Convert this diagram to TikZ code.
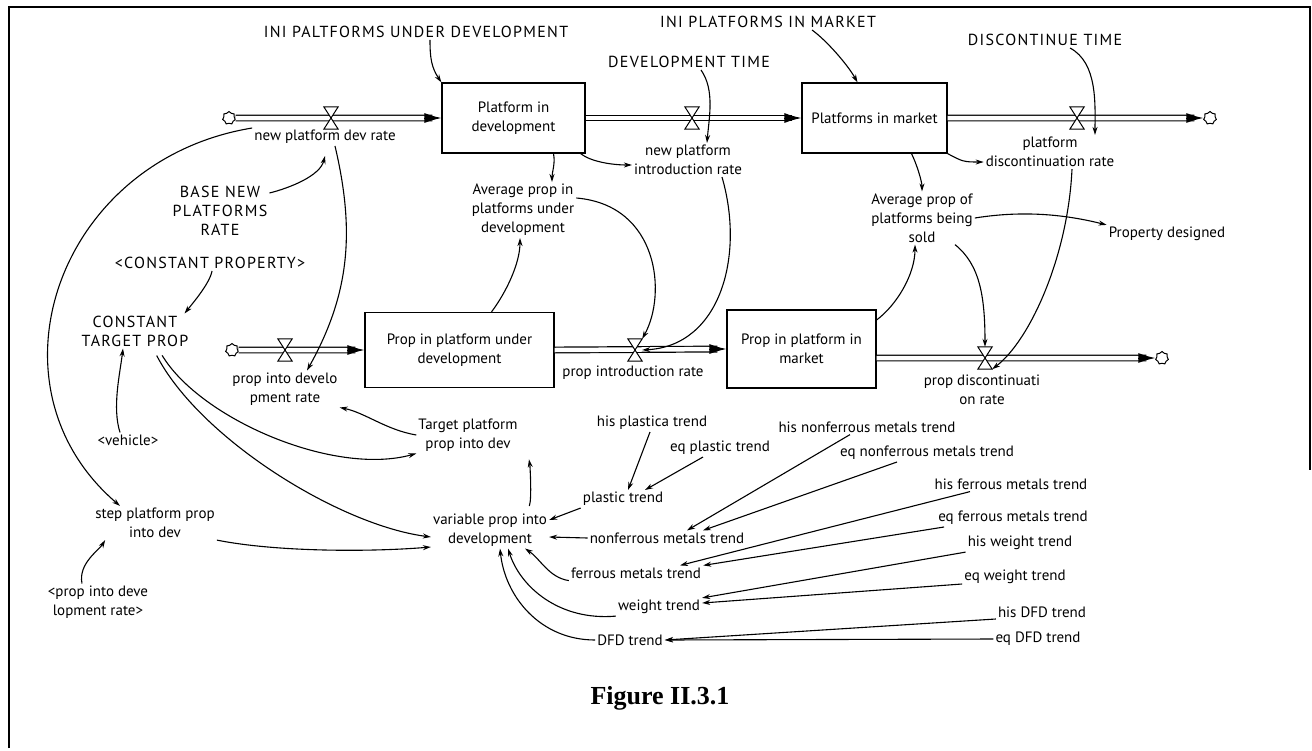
\documentclass[tikz,border=0pt]{standalone}
\usepackage{fontspec}
\setmainfont{PT Sans}
\newfontfamily\captionfont{Liberation Serif}
\usetikzlibrary{arrows.meta}
\usetikzlibrary{shapes.symbols}
\usetikzlibrary{calc}

\tikzset{
  stock/.style={draw, rectangle, line width=1.2pt, align=center, inner sep=3pt},
  aux/.style={align=center, inner sep=2pt},
  capsaux/.style={aux, font=\fontsize{16}{19}\selectfont\addfontfeature{LetterSpace=8}},
  valve/.style={minimum width=14, minimum height=22, inner sep=0pt},
  cloudy/.style={cloud, cloud puffs=7, draw, fill=white, minimum width=13, minimum height=13, inner sep=0pt, line width=1pt, aspect=1},
  pipe/.style={double, double distance=4.5pt, line width=1.2pt},
  pipetip/.style={-{Latex[length=17pt,width=10pt]}, line width=1pt},
  link/.style={-{Stealth[length=8pt,width=5pt]}, line width=1.1pt},
}

\begin{document}
\begin{tikzpicture}[x=1pt, y=-1pt, font=\fontsize{15}{19}\selectfont]
\useasboundingbox (0,0) rectangle (1312,750);
\draw[line width=1.6pt] (9,748) -- (9,7) -- (1310,7) -- (1310,470);

% stocks
\node[stock, minimum width=143, minimum height=70] (pdev) at (513.5,118) {Platform in\\development};
\node[stock, minimum width=145, minimum height=70] (pmkt) at (874.5,118) {Platforms in market};
\node[stock, minimum width=189, minimum height=75] (ppdev) at (459.5,350) {Prop in platform under\\development};
\node[stock, minimum width=149, minimum height=78] (ppmkt) at (801.5,349) {Prop in platform in\\market};

% clouds and valves
\node[cloudy] (src1) at (229,118) {};
\node[cloudy] (snk1) at (1210,118) {};
\node[cloudy] (src2) at (232,350) {};
\node[cloudy] (snk2) at (1162,358) {};
\node[valve] (vnew) at (331,118) {};
\node[valve] (vint) at (692,118) {};
\node[valve] (vdis) at (1077,118) {};
\node[valve] (vpin) at (285,350) {};
\node[valve] (vpint) at (635,350) {};
\node[valve] (vpdis) at (985,358) {};

% pipes
\draw[pipe, shorten >=9pt] (src1.east) -- (pdev.west);
\draw[pipe, shorten >=9pt] (pdev.east) -- (pmkt.west);
\draw[pipe, shorten >=9pt] (pmkt.east) -- (snk1.west);
\draw[pipe, shorten >=9pt] (src2.east) -- (ppdev.west);
\draw[pipe, shorten >=9pt] (ppdev.east) -- (ppmkt.west);
\draw[pipe, shorten >=9pt] (ppmkt.east |- snk2) -- (snk2.west);
\foreach \t in {pdev,pmkt,snk1,ppdev,ppmkt,snk2}
  \draw[pipetip] ([xshift=-17pt]\t.west) -- (\t.west);
\foreach \v in {vnew,vint,vdis,vpin,vpint,vpdis}
  \filldraw[fill=white, line width=1pt] (\v.north west) -- (\v.north east) -- (\v.south west) -- (\v.south east) -- cycle;

% flow labels
\node[aux] (lnew) at (325,137) {new platform dev rate};
\node[aux] (lint) at (688,160) {new platform\\introduction rate};
\node[aux] (ldis) at (1050,152) {platform\\discontinuation rate};
\node[aux] (lpin) at (285,389) {prop into develo\\pment rate};
\node[aux] (lpint) at (633,373) {prop introduction rate};
\node[aux] (lpdis) at (982,390) {prop discontinuati\\on rate};

% auxiliaries
\node[capsaux] (ini1) at (416,32) {INI PALTFORMS UNDER DEVELOPMENT};
\node[capsaux] (ini2) at (768,22) {INI PLATFORMS IN MARKET};
\node[capsaux] (devt) at (689,62) {DEVELOPMENT TIME};
\node[capsaux] (dist) at (1045,40) {DISCONTINUE TIME};
\node[capsaux] (base) at (220,211) {BASE NEW\\PLATFORMS\\RATE};
\node[capsaux] (cprop) at (210,263) {<CONSTANT PROPERTY>};
\node[capsaux] (ctp) at (135,331) {CONSTANT\\TARGET PROP};
\node[aux] (veh) at (128,440) {<vehicle>};
\node[aux] (spp) at (155,523) {step platform prop\\into dev};
\node[aux] (pidr) at (98,602) {<prop into deve\\lopment rate>};
\node[aux] (tgt) at (468,435) {Target platform\\prop into dev};
\node[aux] (var) at (490,530) {variable prop into\\development};
\node[aux] (avgdev) at (523,210) {Average prop in\\platforms under\\development};
\node[aux] (avgsold) at (922,218) {Average prop of\\platforms being\\sold};
\node[aux] (propdes) at (1167,234) {Property designed};

% trends
\node[aux] (hpl) at (652,423) {his plastica trend};
\node[aux] (epl) at (720,448) {eq plastic trend};
\node[aux] (pl) at (623,499) {plastic trend};
\node[aux] (hnf) at (867,427) {his nonferrous metals trend};
\node[aux] (enf) at (927,453) {eq nonferrous metals trend};
\node[aux] (nf) at (667,538) {nonferrous metals trend};
\node[aux] (hfe) at (1011,484) {his ferrous metals trend};
\node[aux] (efe) at (1013,518) {eq ferrous metals trend};
\node[aux] (fe) at (636,573) {ferrous metals trend};
\node[aux] (hwt) at (1020,543) {his weight trend};
\node[aux] (ewt) at (1015,577) {eq weight trend};
\node[aux] (wt) at (659,607) {weight trend};
\node[aux] (hdfd) at (1042,612) {his DFD trend};
\node[aux] (edfd) at (1038,639) {eq DFD trend};
\node[aux] (dfd) at (630,640) {DFD trend};

\node[font=\captionfont\bfseries\fontsize{26}{30}\selectfont] (fig) at (660,698) {Figure II.3.1};

% links, upper part
\draw[link] ([xshift=14pt]ini1.south) .. controls +(0,18) and +(-10,-15) .. (pdev.north west);
\draw[link] ([xshift=44pt]ini2.south) .. controls +(14,10) and +(-10,-18) .. ([xshift=-17pt]pmkt.north);
\draw[link] ([xshift=12pt]devt.south) .. controls +(14,20) and +(2,-25) .. ([xshift=19pt]lint.north);
\draw[link] ([xshift=25pt]dist.south) .. controls +(28,15) and +(0,-30) .. ([xshift=45pt]ldis.north);
\draw[link] ([yshift=18pt]base.east) .. controls +(20,-5) and +(-5,20) .. ([yshift=-10pt]lnew.south);
\draw[link] ([xshift=10pt]lnew.south) .. controls +(20,85) and +(43,-77) .. ([xshift=22pt]lpin.north);
\draw[link] (lnew.north west) .. controls +(-195,32) and +(-140,-120) .. ([xshift=-35pt]spp.north);
\draw[link] ([xshift=2pt]cprop.south) .. controls +(-2,12) and +(8,-10) .. ([xshift=-6pt]ctp.north east);
\draw[link] ([xshift=-8pt]veh.north) .. controls +(-8,-25) and +(-3,25) .. ([xshift=-12pt]ctp.south);
\draw[link, shorten <=8pt] ([xshift=23pt]ctp.south) .. controls +(42,70) and +(-83,23) .. (tgt.south west);
\draw[link, shorten <=8pt] ([xshift=18pt]ctp.south) .. controls +(47,90) and +(-92,-12) .. ([yshift=-7pt]var.west);
\draw[link] (spp.south east) .. controls +(60,12) and +(-60,5) .. ([yshift=-17pt]var.west);
\draw[link] ([xshift=-16pt]pidr.north) .. controls +(-4,-20) and +(-6,10) .. ([xshift=12pt]spp.south west);
\draw[link] (tgt.west) .. controls +(-30,-5) and +(25,5) .. (lpin.south east);
\draw[link, shorten <=6pt, shorten >=6pt] ([xshift=37pt]var.north) .. controls +(5,-12) and +(2,12) .. ([xshift=60pt]tgt.south);
\draw[link] ([xshift=40pt]pdev.south) .. controls +(2,10) and +(0,-10) .. ([xshift=29pt]avgdev.north);
\draw[link] ([xshift=-5pt]pdev.south east) .. controls +(10,8) and +(-20,0) .. ([yshift=-5pt]lint.west);
\draw[link] ([xshift=32pt]ppdev.north) .. controls +(15,-20) and +(0,25) .. ([xshift=-3pt]avgdev.south);
\draw[link] ([yshift=12pt]avgdev.east) .. controls +(82,7) and +(25,-45) .. (vpint.north east);
\draw[link] ([xshift=34pt]lint.south) .. controls +(23,79) and +(78,-4) .. (vpint.east);
\draw[link] ([xshift=37pt]pmkt.south) .. controls +(5,10) and +(0,-10) .. (avgsold.north);
\draw[link] (pmkt.south east) .. controls +(15,8) and +(-20,0) .. ([yshift=-10pt]ldis.west);
\draw[link] (avgsold.east) .. controls +(50,-8) and +(-40,-10) .. (propdes.north west);
\draw[link] ([yshift=29pt]ppmkt.east) .. controls +(20,-15) and +(0,30) .. ([xshift=-7pt]avgsold.south);
\draw[link] ([xshift=33pt]avgsold.south) .. controls +(25,20) and +(0,-50) .. (vpdis.north);
\draw[link] ([xshift=22pt]ldis.south) .. controls +(-4,87) and +(38,-29) .. (vpdis.south east);

% links, trends
\draw[link] ([xshift=-2pt]hpl.south) -- ([xshift=5pt]pl.north);
\draw[link] ([xshift=-17pt]epl.south) -- ([xshift=22pt]pl.north);
\draw[link] (pl.south west) -- ([yshift=10pt]var.east);
\draw[link] ([xshift=-17pt]hnf.south) -- ([xshift=20pt]nf.north);
\draw[link] ([xshift=-30pt]enf.south) -- ([xshift=36pt]nf.north);
\draw[link] (nf.west) -- ([yshift=-7pt]var.east);
\draw[link] ([xshift=-41pt]hfe.south) -- ([xshift=44pt]fe.north);
\draw[link] ([xshift=8pt]efe.south west) -- (fe.north east);
\draw[link] (fe.south west) .. controls +(-20,-3) and +(15,10) .. ([xshift=35pt]var.south);
\draw[link] (hwt.south west) -- (wt.north east);
\draw[link] ([yshift=-7pt]ewt.west) -- ([yshift=4pt]wt.east);
\draw[link] (wt.south west) .. controls +(-57,5) and +(12,38) .. ([xshift=18pt]var.south);
\draw[link] ([yshift=-7pt]hdfd.west) -- (dfd.east);
\draw[link] (edfd.west) -- (dfd.east);
\draw[link] (dfd.west) .. controls +(-55,0) and +(5,48) .. ([xshift=10pt]var.south);
\end{tikzpicture}
\end{document}
